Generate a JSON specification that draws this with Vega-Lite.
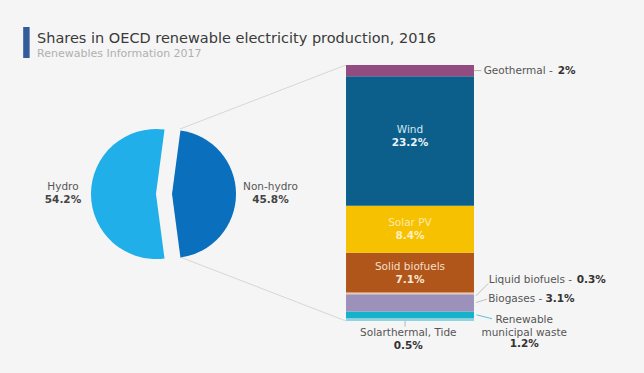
{
  "$schema": "https://vega.github.io/schema/vega-lite/v6.json",
  "width": 644,
  "height": 313,
  "autosize": {"type": "none"},
  "padding": {"top": 60, "left": 0, "right": 0, "bottom": 0},
  "background": "#F5F5F5",
  "config": {"view": {"stroke": null}, "font": "DejaVu Sans"},
  "title": {
    "text": "Shares in OECD renewable electricity production, 2016",
    "subtitle": "Renewables Information 2017",
    "anchor": "start",
    "frame": "group",
    "dx": 37,
    "offset": -33,
    "font": "DejaVu Sans",
    "fontSize": 14.5,
    "fontWeight": "normal",
    "color": "#3a3a3a",
    "subtitleFont": "DejaVu Sans",
    "subtitleFontSize": 11,
    "subtitleColor": "#b0b0b0",
    "subtitlePadding": 1.5
  },
  "datasets": {
    "pie": [
      {"part": "Hydro", "share": 54.2},
      {"part": "Non-hydro", "share": 45.8}
    ],
    "mix": [
      {"source": "Solarthermal, Tide", "share": 0.5, "rank": 1},
      {"source": "Renewable municipal waste", "share": 1.2, "rank": 2},
      {"source": "Biogases", "share": 3.1, "rank": 3},
      {"source": "Liquid biofuels", "share": 0.3, "rank": 4},
      {"source": "Solid biofuels", "share": 7.1, "rank": 5},
      {"source": "Solar PV", "share": 8.4, "rank": 6},
      {"source": "Wind", "share": 23.2, "rank": 7},
      {"source": "Geothermal", "share": 2.0, "rank": 8}
    ]
  },
  "resolve": {"scale": {"color": "independent"}},
  "layer": [
    {
      "data": {"values": [{}]},
      "mark": {"type": "rect", "color": "#335C9A"},
      "encoding": {
        "x": {"datum": 3.6, "type": "quantitative", "scale": {"domain": [0, 100], "nice": false, "zero": false}, "axis": null},
        "x2": {"datum": 4.6},
        "y": {"datum": 52.6, "type": "quantitative", "scale": {"domain": [-9.303, 46.695], "nice": false, "zero": false}, "axis": null},
        "y2": {"datum": 47.05}
      }
    },
    {
      "data": {"values": [{}]},
      "mark": {"type": "rule", "color": "#d6d6d6", "strokeWidth": 1},
      "encoding": {
        "x": {"datum": 27.95, "type": "quantitative", "scale": {"domain": [0, 100], "nice": false, "zero": false}, "axis": null},
        "x2": {"datum": 53.73},
        "y": {"datum": 34.35, "type": "quantitative", "scale": {"domain": [-9.303, 46.695], "nice": false, "zero": false}, "axis": null},
        "y2": {"datum": 45.8}
      }
    },
    {
      "data": {"values": [{}]},
      "mark": {"type": "rule", "color": "#d6d6d6", "strokeWidth": 1},
      "encoding": {
        "x": {"datum": 27.95, "type": "quantitative", "scale": {"domain": [0, 100], "nice": false, "zero": false}, "axis": null},
        "x2": {"datum": 53.73},
        "y": {"datum": 11.45, "type": "quantitative", "scale": {"domain": [-9.303, 46.695], "nice": false, "zero": false}, "axis": null},
        "y2": {"datum": 0}
      }
    },
    {
      "data": {"name": "pie"},
      "transform": [
        {"stack": "share", "groupby": [], "sort": [{"field": "part", "order": "ascending"}], "as": ["t0", "t1"]},
        {"calculate": "format(datum.share, '.1f') + '%'", "as": "pct"}
      ],
      "layer": [
        {
          "transform": [{"filter": "datum.part == 'Hydro'"}],
          "layer": [
            {
              "mark": {"type": "arc", "outerRadius": 65, "color": "#21AFEA"},
              "encoding": {
                "x": {"datum": 24.22, "type": "quantitative", "scale": {"domain": [0, 100], "nice": false, "zero": false}, "axis": null},
                "y": {"datum": 22.72, "type": "quantitative", "scale": {"domain": [-9.303, 46.695], "nice": false, "zero": false}, "axis": null},
                "theta": {"field": "t0", "type": "quantitative", "scale": {"domain": [0, 100], "range": [3.0098, 9.293]}},
                "theta2": {"field": "t1"}
              }
            },
            {
              "mark": {"type": "text", "fontSize": 10.5, "color": "#555555", "dy": -6, "baseline": "middle"},
              "encoding": {
                "x": {"datum": 9.78, "type": "quantitative", "scale": {"domain": [0, 100], "nice": false, "zero": false}, "axis": null},
                "y": {"datum": 22.9, "type": "quantitative", "scale": {"domain": [-9.303, 46.695], "nice": false, "zero": false}, "axis": null},
                "text": {"field": "part"}
              }
            },
            {
              "mark": {"type": "text", "fontSize": 10.5, "fontWeight": "bold", "color": "#444444", "dy": 7, "baseline": "middle"},
              "encoding": {
                "x": {"datum": 9.78, "type": "quantitative", "scale": {"domain": [0, 100], "nice": false, "zero": false}, "axis": null},
                "y": {"datum": 22.9, "type": "quantitative", "scale": {"domain": [-9.303, 46.695], "nice": false, "zero": false}, "axis": null},
                "text": {"field": "pct"}
              }
            }
          ]
        },
        {
          "transform": [{"filter": "datum.part == 'Non-hydro'"}],
          "layer": [
            {
              "mark": {"type": "arc", "outerRadius": 64, "color": "#0A6FBC"},
              "encoding": {
                "x": {"datum": 26.71, "type": "quantitative", "scale": {"domain": [0, 100], "nice": false, "zero": false}, "axis": null},
                "y": {"datum": 22.72, "type": "quantitative", "scale": {"domain": [-9.303, 46.695], "nice": false, "zero": false}, "axis": null},
                "theta": {"field": "t0", "type": "quantitative", "scale": {"domain": [0, 100], "range": [3.0098, 9.293]}},
                "theta2": {"field": "t1"}
              }
            },
            {
              "mark": {"type": "text", "fontSize": 10.5, "color": "#555555", "dy": -6, "baseline": "middle"},
              "encoding": {
                "x": {"datum": 42.0, "type": "quantitative", "scale": {"domain": [0, 100], "nice": false, "zero": false}, "axis": null},
                "y": {"datum": 22.9, "type": "quantitative", "scale": {"domain": [-9.303, 46.695], "nice": false, "zero": false}, "axis": null},
                "text": {"field": "part"}
              }
            },
            {
              "mark": {"type": "text", "fontSize": 10.5, "fontWeight": "bold", "color": "#444444", "dy": 7, "baseline": "middle"},
              "encoding": {
                "x": {"datum": 42.0, "type": "quantitative", "scale": {"domain": [0, 100], "nice": false, "zero": false}, "axis": null},
                "y": {"datum": 22.9, "type": "quantitative", "scale": {"domain": [-9.303, 46.695], "nice": false, "zero": false}, "axis": null},
                "text": {"field": "pct"}
              }
            }
          ]
        }
      ]
    },
    {
      "data": {"name": "mix"},
      "transform": [
        {"stack": "share", "groupby": [], "sort": [{"field": "rank", "order": "ascending"}], "as": ["y0", "y1"]},
        {"calculate": "(datum.y0 + datum.y1) / 2", "as": "mid"},
        {"calculate": "format(datum.share, '.1~f') + '%'", "as": "pct"}
      ],
      "layer": [
        {
          "mark": {"type": "bar"},
          "encoding": {
            "x": {"datum": 53.73, "type": "quantitative", "scale": {"domain": [0, 100], "nice": false, "zero": false}, "axis": null},
            "x2": {"datum": 73.6},
            "y": {"field": "y0", "type": "quantitative", "scale": {"domain": [-9.303, 46.695], "nice": false, "zero": false}, "axis": null},
            "y2": {"field": "y1"},
            "color": {"field": "source", "type": "nominal", "legend": null, "scale": {
              "domain": ["Geothermal", "Wind", "Solar PV", "Solid biofuels", "Liquid biofuels", "Biogases", "Renewable municipal waste", "Solarthermal, Tide"],
              "range": ["#924C80", "#0B5F8A", "#F6C100", "#B0561A", "#EBC9AC", "#9C91BA", "#17B1CC", "#8FD4DC"]}}
          }
        },
        {
          "transform": [{"filter": "datum.source == 'Wind'"}],
          "layer": [
            {
              "mark": {"type": "text", "fontSize": 10.5, "color": "#D2E8F4", "dy": -11, "baseline": "middle"},
              "encoding": {
                "x": {"datum": 63.66, "type": "quantitative", "scale": {"domain": [0, 100], "nice": false, "zero": false}, "axis": null},
                "y": {"field": "mid", "type": "quantitative", "scale": {"domain": [-9.303, 46.695], "nice": false, "zero": false}, "axis": null},
                "text": {"field": "source"}
              }
            },
            {
              "mark": {"type": "text", "fontSize": 10.5, "fontWeight": "bold", "color": "#EAF4FA", "dy": 2, "baseline": "middle"},
              "encoding": {
                "x": {"datum": 63.66, "type": "quantitative", "scale": {"domain": [0, 100], "nice": false, "zero": false}, "axis": null},
                "y": {"field": "mid", "type": "quantitative", "scale": {"domain": [-9.303, 46.695], "nice": false, "zero": false}, "axis": null},
                "text": {"field": "pct"}
              }
            }
          ]
        },
        {
          "transform": [{"filter": "datum.source == 'Solar PV'"}],
          "layer": [
            {
              "mark": {"type": "text", "fontSize": 10.5, "dy": -6, "baseline": "middle", "color": "#FFE9A8"},
              "encoding": {
                "x": {"datum": 63.66, "type": "quantitative", "scale": {"domain": [0, 100], "nice": false, "zero": false}, "axis": null},
                "y": {"field": "mid", "type": "quantitative", "scale": {"domain": [-9.303, 46.695], "nice": false, "zero": false}, "axis": null},
                "text": {"field": "source"}
              }
            },
            {
              "mark": {"type": "text", "fontSize": 10.5, "fontWeight": "bold", "dy": 7, "baseline": "middle", "color": "#FFEFC2"},
              "encoding": {
                "x": {"datum": 63.66, "type": "quantitative", "scale": {"domain": [0, 100], "nice": false, "zero": false}, "axis": null},
                "y": {"field": "mid", "type": "quantitative", "scale": {"domain": [-9.303, 46.695], "nice": false, "zero": false}, "axis": null},
                "text": {"field": "pct"}
              }
            }
          ]
        },
        {
          "transform": [{"filter": "datum.source == 'Solid biofuels'"}],
          "layer": [
            {
              "mark": {"type": "text", "fontSize": 10.5, "dy": -6, "baseline": "middle", "color": "#F7DEC8"},
              "encoding": {
                "x": {"datum": 63.66, "type": "quantitative", "scale": {"domain": [0, 100], "nice": false, "zero": false}, "axis": null},
                "y": {"field": "mid", "type": "quantitative", "scale": {"domain": [-9.303, 46.695], "nice": false, "zero": false}, "axis": null},
                "text": {"field": "source"}
              }
            },
            {
              "mark": {"type": "text", "fontSize": 10.5, "fontWeight": "bold", "dy": 7, "baseline": "middle", "color": "#FBE8D6"},
              "encoding": {
                "x": {"datum": 63.66, "type": "quantitative", "scale": {"domain": [0, 100], "nice": false, "zero": false}, "axis": null},
                "y": {"field": "mid", "type": "quantitative", "scale": {"domain": [-9.303, 46.695], "nice": false, "zero": false}, "axis": null},
                "text": {"field": "pct"}
              }
            }
          ]
        },
        {
          "transform": [{"filter": "datum.source == 'Geothermal'"}],
          "layer": [
            {
              "mark": {"type": "rule", "color": "#b5b5b5"},
              "encoding": {
                "x": {"datum": 73.6, "type": "quantitative", "scale": {"domain": [0, 100], "nice": false, "zero": false}, "axis": null},
                "x2": {"datum": 74.75},
                "y": {"field": "mid", "type": "quantitative", "scale": {"domain": [-9.303, 46.695], "nice": false, "zero": false}, "axis": null}
              }
            },
            {
              "mark": {"type": "text", "fontSize": 10.5, "color": "#555555", "align": "left", "baseline": "middle"},
              "encoding": {
                "x": {"datum": 75.1, "type": "quantitative", "scale": {"domain": [0, 100], "nice": false, "zero": false}, "axis": null},
                "y": {"field": "mid", "type": "quantitative", "scale": {"domain": [-9.303, 46.695], "nice": false, "zero": false}, "axis": null},
                "text": {"value": "Geothermal -"}
              }
            },
            {
              "mark": {"type": "text", "fontSize": 10.5, "fontWeight": "bold", "color": "#333333", "align": "left", "baseline": "middle"},
              "encoding": {
                "x": {"datum": 86.6, "type": "quantitative", "scale": {"domain": [0, 100], "nice": false, "zero": false}, "axis": null},
                "y": {"field": "mid", "type": "quantitative", "scale": {"domain": [-9.303, 46.695], "nice": false, "zero": false}, "axis": null},
                "text": {"field": "pct"}
              }
            }
          ]
        },
        {
          "transform": [{"filter": "datum.source == 'Liquid biofuels'"}],
          "layer": [
            {
              "mark": {"type": "rule", "color": "#c0c0c0"},
              "encoding": {
                "x": {"datum": 73.9, "type": "quantitative", "scale": {"domain": [0, 100], "nice": false, "zero": false}, "axis": null},
                "x2": {"datum": 75.8},
                "y": {"datum": 4.5, "type": "quantitative", "scale": {"domain": [-9.303, 46.695], "nice": false, "zero": false}, "axis": null},
                "y2": {"datum": 6.7}
              }
            },
            {
              "mark": {"type": "text", "fontSize": 10.5, "color": "#555555", "align": "left", "baseline": "middle"},
              "encoding": {
                "x": {"datum": 75.9, "type": "quantitative", "scale": {"domain": [0, 100], "nice": false, "zero": false}, "axis": null},
                "y": {"datum": 7.3, "type": "quantitative", "scale": {"domain": [-9.303, 46.695], "nice": false, "zero": false}, "axis": null},
                "text": {"value": "Liquid biofuels -"}
              }
            },
            {
              "mark": {"type": "text", "fontSize": 10.5, "fontWeight": "bold", "color": "#333333", "align": "left", "baseline": "middle"},
              "encoding": {
                "x": {"datum": 89.55, "type": "quantitative", "scale": {"domain": [0, 100], "nice": false, "zero": false}, "axis": null},
                "y": {"datum": 7.3, "type": "quantitative", "scale": {"domain": [-9.303, 46.695], "nice": false, "zero": false}, "axis": null},
                "text": {"field": "pct"}
              }
            }
          ]
        },
        {
          "transform": [{"filter": "datum.source == 'Biogases'"}],
          "layer": [
            {
              "mark": {"type": "rule", "color": "#c0c0c0"},
              "encoding": {
                "x": {"datum": 73.9, "type": "quantitative", "scale": {"domain": [0, 100], "nice": false, "zero": false}, "axis": null},
                "x2": {"datum": 75.6},
                "y": {"datum": 3.3, "type": "quantitative", "scale": {"domain": [-9.303, 46.695], "nice": false, "zero": false}, "axis": null},
                "y2": {"datum": 3.9}
              }
            },
            {
              "mark": {"type": "text", "fontSize": 10.5, "color": "#555555", "align": "left", "baseline": "middle"},
              "encoding": {
                "x": {"datum": 75.8, "type": "quantitative", "scale": {"domain": [0, 100], "nice": false, "zero": false}, "axis": null},
                "y": {"datum": 3.9, "type": "quantitative", "scale": {"domain": [-9.303, 46.695], "nice": false, "zero": false}, "axis": null},
                "text": {"value": "Biogases -"}
              }
            },
            {
              "mark": {"type": "text", "fontSize": 10.5, "fontWeight": "bold", "color": "#333333", "align": "left", "baseline": "middle"},
              "encoding": {
                "x": {"datum": 84.7, "type": "quantitative", "scale": {"domain": [0, 100], "nice": false, "zero": false}, "axis": null},
                "y": {"datum": 3.9, "type": "quantitative", "scale": {"domain": [-9.303, 46.695], "nice": false, "zero": false}, "axis": null},
                "text": {"field": "pct"}
              }
            }
          ]
        },
        {
          "transform": [{"filter": "datum.source == 'Renewable municipal waste'"}],
          "layer": [
            {
              "mark": {"type": "rule", "color": "#5CC3CF"},
              "encoding": {
                "x": {"datum": 74.0, "type": "quantitative", "scale": {"domain": [0, 100], "nice": false, "zero": false}, "axis": null},
                "x2": {"datum": 76.4},
                "y": {"datum": 1.1, "type": "quantitative", "scale": {"domain": [-9.303, 46.695], "nice": false, "zero": false}, "axis": null},
                "y2": {"datum": 0.4}
              }
            },
            {
              "mark": {"type": "text", "fontSize": 10.5, "color": "#555555", "align": "center", "baseline": "middle", "lineHeight": 13},
              "encoding": {
                "x": {"datum": 81.4, "type": "quantitative", "scale": {"domain": [0, 100], "nice": false, "zero": false}, "axis": null},
                "y": {"datum": 0.2, "type": "quantitative", "scale": {"domain": [-9.303, 46.695], "nice": false, "zero": false}, "axis": null},
                "text": {"value": ["Renewable", "municipal waste"]}
              }
            },
            {
              "mark": {"type": "text", "fontSize": 10.5, "fontWeight": "bold", "color": "#333333", "align": "center", "baseline": "middle"},
              "encoding": {
                "x": {"datum": 81.4, "type": "quantitative", "scale": {"domain": [0, 100], "nice": false, "zero": false}, "axis": null},
                "y": {"datum": -4.2, "type": "quantitative", "scale": {"domain": [-9.303, 46.695], "nice": false, "zero": false}, "axis": null},
                "text": {"field": "pct"}
              }
            }
          ]
        },
        {
          "transform": [{"filter": "datum.source == 'Solarthermal, Tide'"}],
          "layer": [
            {
              "mark": {"type": "rule", "color": "#b5b5b5"},
              "encoding": {
                "x": {"datum": 62.9, "type": "quantitative", "scale": {"domain": [0, 100], "nice": false, "zero": false}, "axis": null},
                "y": {"datum": 0, "type": "quantitative", "scale": {"domain": [-9.303, 46.695], "nice": false, "zero": false}, "axis": null},
                "y2": {"datum": -1.0}
              }
            },
            {
              "mark": {"type": "text", "fontSize": 10.5, "color": "#555555", "align": "center", "baseline": "middle"},
              "encoding": {
                "x": {"datum": 63.4, "type": "quantitative", "scale": {"domain": [0, 100], "nice": false, "zero": false}, "axis": null},
                "y": {"datum": -2.15, "type": "quantitative", "scale": {"domain": [-9.303, 46.695], "nice": false, "zero": false}, "axis": null},
                "text": {"field": "source"}
              }
            },
            {
              "mark": {"type": "text", "fontSize": 10.5, "fontWeight": "bold", "color": "#333333", "align": "center", "baseline": "middle"},
              "encoding": {
                "x": {"datum": 63.4, "type": "quantitative", "scale": {"domain": [0, 100], "nice": false, "zero": false}, "axis": null},
                "y": {"datum": -4.5, "type": "quantitative", "scale": {"domain": [-9.303, 46.695], "nice": false, "zero": false}, "axis": null},
                "text": {"field": "pct"}
              }
            }
          ]
        }
      ]
    }
  ]
}
